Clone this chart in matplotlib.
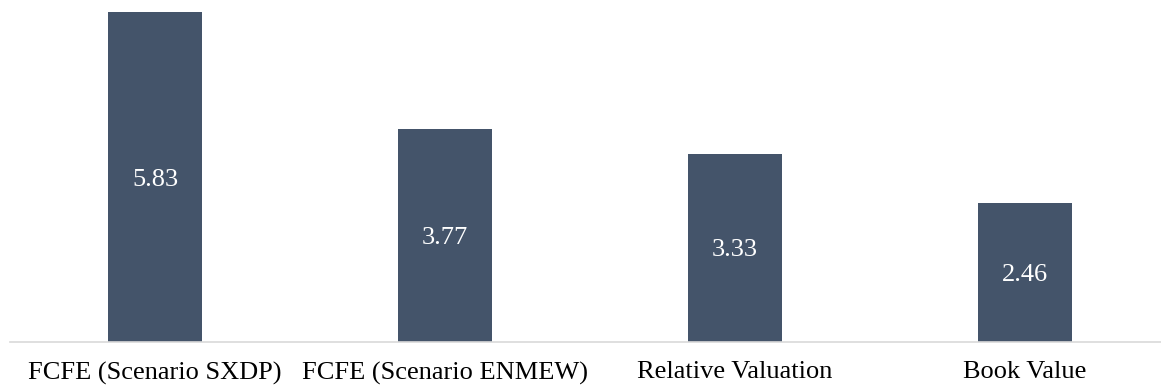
import matplotlib
matplotlib.use("Agg")
import matplotlib.pyplot as plt

categories = ["FCFE (Scenario SXDP)", "FCFE (Scenario ENMEW)", "Relative Valuation", "Book Value"]
values = [5.83, 3.77, 3.33, 2.46]

W, H = 1161, 388
fig = plt.figure(figsize=(W / 100, H / 100), dpi=100)
ax = fig.add_axes([10 / W, (H - 342) / H, 1160 / W, 330 / H])
ax.set_facecolor("white")

x = list(range(len(categories)))
bars = ax.bar(x, values, width=0.325, color="#44546A", zorder=2)
ax.set_xlim(-0.5, 3.5)
ax.set_ylim(0, 5.83)

for rect, v in zip(bars, values):
    ax.text(rect.get_x() + rect.get_width() / 2, v / 2, f"{v:.2f}",
            ha="center", va="center_baseline", color="white",
            family="Liberation Serif", fontsize=19)

ax.set_xticks(x)
ax.set_xticklabels(categories, family="Liberation Serif", fontsize=19, color="black")
ax.tick_params(axis="x", length=0, pad=14)
ax.set_yticks([])
for s in ["top", "right", "left"]:
    ax.spines[s].set_visible(False)
ax.spines["bottom"].set_color("#D9D9D9")
ax.spines["bottom"].set_linewidth(1.2)
ax.spines["bottom"].set_zorder(3)

fig.savefig("out.png", dpi=100, facecolor="white")
